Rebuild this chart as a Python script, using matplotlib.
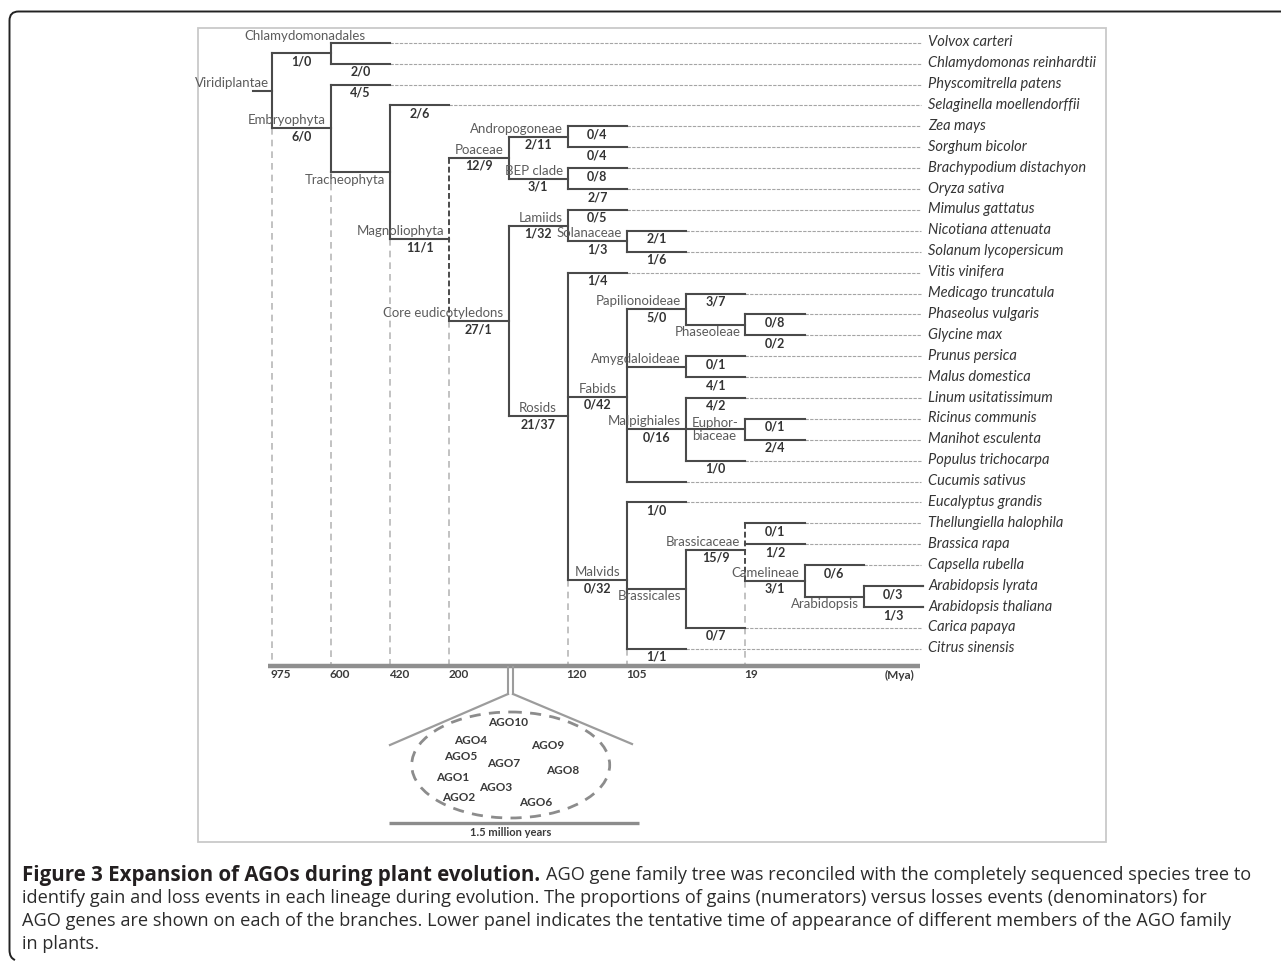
import matplotlib
matplotlib.use('Agg')
import matplotlib.pyplot as plt
from matplotlib.patches import Ellipse, Rectangle, PathPatch
from matplotlib.path import Path

# species tree (children listed top to bottom)
clades = {
    'Viridiplantae': ['Chlamydomonadales', 'Embryophyta'],
    'Chlamydomonadales': ['Volvox carteri', 'Chlamydomonas reinhardtii'],
    'Embryophyta': ['Physcomitrella patens', 'Tracheophyta'],
    'Tracheophyta': ['Selaginella moellendorffii', 'Magnoliophyta'],
    'Magnoliophyta': ['Poaceae', 'Core eudicotyledons'],
    'Poaceae': ['Andropogoneae', 'BEP clade'],
    'Andropogoneae': ['Zea mays', 'Sorghum bicolor'],
    'BEP clade': ['Brachypodium distachyon', 'Oryza sativa'],
    'Core eudicotyledons': ['Lamiids', 'Rosids'],
    'Lamiids': ['Mimulus gattatus', 'Solanaceae'],
    'Solanaceae': ['Nicotiana attenuata', 'Solanum lycopersicum'],
    'Rosids': ['Vitis vinifera', 'Fabids', 'Malvids'],
    'Fabids': ['Papilionoideae', 'Amygdaloideae', 'Malpighiales', 'Cucumis sativus'],
    'Papilionoideae': ['Medicago truncatula', 'Phaseoleae'],
    'Phaseoleae': ['Phaseolus vulgaris', 'Glycine max'],
    'Amygdaloideae': ['Prunus persica', 'Malus domestica'],
    'Malpighiales': ['Linum usitatissimum', 'Euphorbiaceae', 'Populus trichocarpa'],
    'Euphorbiaceae': ['Ricinus communis', 'Manihot esculenta'],
    'Malvids': ['Eucalyptus grandis', 'Brassicales', 'Citrus sinensis'],
    'Brassicales': ['Brassicaceae', 'Carica papaya'],
    'Brassicaceae': ['Thellungiella halophila', 'Brassica rapa', 'Camelineae'],
    'Camelineae': ['Capsella rubella', 'Arabidopsis'],
    'Arabidopsis': ['Arabidopsis lyrata', 'Arabidopsis thaliana'],
}

# gains/losses on the branch leading to each node
gain_loss = {
    'Chlamydomonadales': '1/0', 'Chlamydomonas reinhardtii': '2/0',
    'Embryophyta': '6/0', 'Physcomitrella patens': '4/5',
    'Selaginella moellendorffii': '2/6', 'Magnoliophyta': '11/1',
    'Poaceae': '12/9', 'Andropogoneae': '2/11', 'Zea mays': '0/4',
    'Sorghum bicolor': '0/4', 'BEP clade': '3/1',
    'Brachypodium distachyon': '0/8', 'Oryza sativa': '2/7',
    'Core eudicotyledons': '27/1', 'Lamiids': '1/32', 'Mimulus gattatus': '0/5',
    'Solanaceae': '1/3', 'Nicotiana attenuata': '2/1', 'Solanum lycopersicum': '1/6',
    'Rosids': '21/37', 'Vitis vinifera': '1/4', 'Fabids': '0/42',
    'Papilionoideae': '5/0', 'Medicago truncatula': '3/7',
    'Phaseolus vulgaris': '0/8', 'Glycine max': '0/2',
    'Prunus persica': '0/1', 'Malus domestica': '4/1',
    'Malpighiales': '0/16', 'Linum usitatissimum': '4/2',
    'Ricinus communis': '0/1', 'Manihot esculenta': '2/4',
    'Populus trichocarpa': '1/0', 'Eucalyptus grandis': '1/0',
    'Malvids': '0/32', 'Brassicaceae': '15/9',
    'Thellungiella halophila': '0/1', 'Brassica rapa': '1/2',
    'Camelineae': '3/1', 'Capsella rubella': '0/6',
    'Arabidopsis lyrata': '0/3', 'Arabidopsis thaliana': '1/3',
    'Carica papaya': '0/7', 'Citrus sinensis': '1/1',
}

mya_labels = ['975', '600', '420', '200', '120', '105', '19']
mya_nodes = ['Viridiplantae', 'Embryophyta', 'Tracheophyta', 'Magnoliophyta',
             'Rosids', 'Malvids', 'Brassicaceae']

ago_names = ['AGO10', 'AGO4', 'AGO9', 'AGO5', 'AGO7', 'AGO8',
             'AGO1', 'AGO3', 'AGO2', 'AGO6']

caption_bold = 'Figure 3 Expansion of AGOs during plant evolution.'
caption_lines = [
    'AGO gene family tree was reconciled with the completely sequenced species tree to',
    'identify gain and loss events in each lineage during evolution. The proportions of gains (numerators) versus losses events (denominators) for',
    'AGO genes are shown on each of the branches. Lower panel indicates the tentative time of appearance of different members of the AGO family',
    'in plants.',
]

# ---- layout (pixel space) ----
X0, DX = 271.7, 59.2
Y0, DY = 42.7, 20.9
X_END = 921
AXIS_Y = 666
TREE_C = '#4a4a4a'
FONT = 'Lato'

leaves, depth, parent = [], {}, {}


def walk(node, d):
    depth[node] = d
    if node in clades:
        for c in clades[node]:
            parent[c] = node
            walk(c, d + 1)
    else:
        leaves.append(node)


walk('Viridiplantae', 0)
ypos = {s: Y0 + i * DY for i, s in enumerate(leaves)}


def place(node):
    if node in clades:
        ys = [place(c) for c in clades[node]]
        ypos[node] = sum(ys) / len(ys)
    return ypos[node]


place('Viridiplantae')
xpos = {n: X0 + DX * d for n, d in depth.items()}

fig = plt.figure(figsize=(12.81, 9.65), dpi=100)
ax = fig.add_axes([0, 0, 1, 1])
ax.set_xlim(0, 1281)
ax.set_ylim(965, 0)
ax.axis('off')

# outer rounded frame and inner light frame
r = 9
verts = [(1281, 11.5), (9.5 + r, 11.5), (9.5, 11.5), (9.5, 11.5 + r),
         (9.5, 950), (9.5, 958), (15, 960)]
codes = [Path.MOVETO, Path.LINETO, Path.CURVE3, Path.CURVE3,
         Path.LINETO, Path.CURVE3, Path.CURVE3]
ax.add_patch(PathPatch(Path(verts, codes), fill=False, ec='#222222', lw=1.4))
ax.add_patch(Rectangle((198.3, 28.3), 907.4, 813.4, fill=False, ec='#c9c9c9', lw=1.3))

# time lines
for lab, node in zip(mya_labels, mya_nodes):
    x = xpos[node]
    y_start = ypos[clades[node][-1]]
    ax.plot([x, x], [y_start, AXIS_Y], color='#b8b8b8', lw=1.2, dashes=(4, 3), zorder=1)
    ax.text(x - 1, 675, lab, ha='left', va='center', fontsize=8.5,
            fontweight='bold', color='#3a3a3a', family=FONT)
ax.text(885, 675, '(Mya)', ha='left', va='center', fontsize=8.5,
        fontweight='bold', color='#3a3a3a', family=FONT)
ax.plot([268, 920], [AXIS_Y, AXIS_Y], color='#8f8f8f', lw=3.2, solid_capstyle='butt', zorder=2)

# branches
dashed_vert = {'Magnoliophyta', 'Brassicaceae'}
for node, kids in clades.items():
    x = xpos[node]
    if node in dashed_vert:
        ax.plot([x, x], [ypos[kids[0]], ypos[kids[-1]]], color=TREE_C, lw=1.4,
                dashes=(3, 1.5), zorder=3)
    else:
        ax.plot([x, x], [ypos[kids[0]], ypos[kids[-1]]], color=TREE_C, lw=1.5,
                solid_capstyle='projecting', zorder=3)
for node, par in parent.items():
    ax.plot([xpos[par], xpos[node]], [ypos[node]] * 2, color=TREE_C, lw=1.5,
            solid_capstyle='projecting', zorder=3)
ax.plot([X0 - 19, X0], [ypos['Viridiplantae']] * 2, color=TREE_C, lw=1.5, zorder=3)

# leaf extensions and species names
for s in leaves:
    if xpos[s] < X_END - 2:
        ax.plot([xpos[s], X_END], [ypos[s]] * 2, color='#a5a5a5', lw=0.8,
                dashes=(3, 1.2), zorder=2)
    else:
        ax.plot([xpos[s], X_END], [ypos[s]] * 2, color=TREE_C, lw=1.5, zorder=3)
    ax.text(928, ypos[s] - 0.5, s, ha='left', va='center', fontsize=10.5,
            style='italic', color='#353535', family=FONT)

# clade names
below = {'Tracheophyta', 'Phaseoleae', 'Brassicales', 'Arabidopsis'}
centred = {'Rosids', 'Fabids', 'Malvids'}
for node in clades:
    kw = dict(fontsize=9.5, color='#5c5c5c', family=FONT, va='center')
    if node == 'Viridiplantae':
        ax.text(X0 - 3, ypos[node] - 8, node, ha='right', **kw)
        continue
    if node == 'Chlamydomonadales':
        ax.text(xpos[node] - 26, ypos[node] - 17, node, ha='center', **kw)
        continue
    if node == 'Euphorbiaceae':
        ax.text(xpos[parent[node]] + 6, ypos[node], 'Euphor-\nbiaceae', ha='left',
                linespacing=1.05, **kw)
        continue
    y = ypos[node] + 7.5 if node in below else ypos[node] - 8
    if node in centred:
        ax.text((xpos[node] + xpos[parent[node]]) / 2, y, node, ha='center', **kw)
    else:
        ax.text(xpos[node] - 5, y, node, ha='right', **kw)

# gain/loss counts
for node, gl in gain_loss.items():
    xm = (xpos[node] + xpos[parent[node]]) / 2
    ax.text(xm, ypos[node] + 8, gl, ha='center', va='center', fontsize=9,
            fontweight='bold', color='#333333', family=FONT)

# lower panel: appearance of AGO members
zc = '#9c9c9c'
ax.plot([508, 508], [AXIS_Y + 1, 694], color=zc, lw=1.5)
ax.plot([513, 513], [AXIS_Y + 1, 694], color=zc, lw=1.5)
ax.plot([508, 390], [694, 745], color=zc, lw=1.6)
ax.plot([513, 632], [694, 744], color=zc, lw=1.6)
ax.add_patch(Ellipse((510.7, 765), 198, 106, fill=False, ec='#8c8c8c', lw=2.0,
                     linestyle=(0, (4, 3))))
ago_xy = [(508.3, 722.7), (470.7, 740.7), (547.3, 745.7), (461, 756), (503.3, 763.7),
          (562.3, 770.7), (452.3, 777.3), (495.7, 787.7), (459, 797.7), (535.3, 803)]
for name, (x, y) in zip(ago_names, ago_xy):
    ax.text(x, y, name, ha='center', va='center', fontsize=8.5, fontweight='bold',
            color='#3a3a3a', family=FONT)
ax.plot([389, 639], [822.7, 822.7], color='#8c8c8c', lw=2.4, solid_capstyle='butt')
ax.text(511, 833, '1.5 million years', ha='center', va='center', fontsize=8,
        fontweight='bold', color='#3a3a3a', family=FONT)

# caption
cf = 'Open Sans'
t0 = ax.text(22, 875, caption_bold, ha='left', va='center', fontsize=14.8,
             fontweight='bold', color='#231f20', family=cf)
ax.annotate(caption_lines[0], xy=(1, 0.5), xycoords=t0, xytext=(4, 0),
            textcoords='offset points', ha='left', va='center', fontsize=13.1,
            color='#2b2b2b', family=cf)
for i, line in enumerate(caption_lines[1:]):
    ax.text(22, 898 + 23 * i, line, ha='left', va='center', fontsize=13.1,
            color='#2b2b2b', family=cf)

fig.savefig('out.png', dpi=100)
